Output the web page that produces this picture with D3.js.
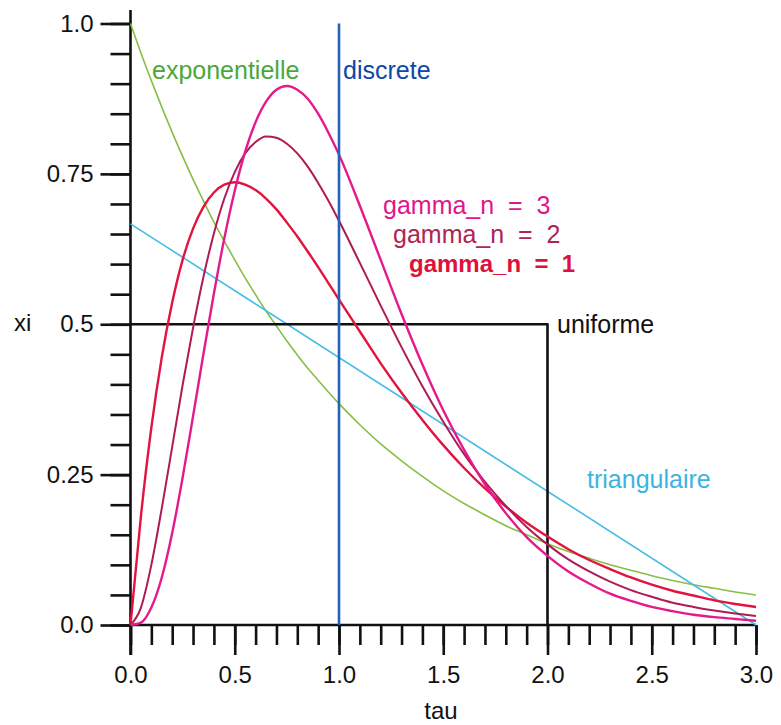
<!DOCTYPE html>
<html>
<head>
<meta charset="utf-8">
<script src="https://cdn.jsdelivr.net/npm/d3@7/dist/d3.min.js"></script>
<style>
  html, body { margin: 0; padding: 0; background: #fff; }
  svg text { font-family: "Liberation Sans", Arial, Helvetica, sans-serif; }
</style>
</head>
<body>
<svg id="chart" width="781" height="725"></svg>
<script>
// tau grid: fine steps up to 1.0, then 0.1 steps
const tau = [0, 0.05, 0.1, 0.15, 0.2, 0.25, 0.3, 0.35, 0.4, 0.45, 0.5, 0.55, 0.6, 0.65, 0.7, 0.75,
  0.8, 0.85, 0.9, 0.95, 1.0, 1.1, 1.2, 1.3, 1.4, 1.5, 1.6, 1.7, 1.8, 1.9, 2.0, 2.1, 2.2, 2.3,
  2.4, 2.5, 2.6, 2.7, 2.8, 2.9, 3.0];

const exponentielle = [1.000, 0.951, 0.905, 0.861, 0.819, 0.779, 0.741, 0.705, 0.670, 0.638, 0.607,
  0.577, 0.549, 0.522, 0.497, 0.472, 0.449, 0.427, 0.407, 0.387, 0.368, 0.333, 0.301, 0.273,
  0.247, 0.223, 0.202, 0.183, 0.165, 0.150, 0.135, 0.122, 0.111, 0.100, 0.091, 0.082, 0.074,
  0.067, 0.061, 0.055, 0.050];

const gamma1 = [0, 0.181, 0.328, 0.445, 0.536, 0.607, 0.659, 0.695, 0.719, 0.732, 0.736, 0.732,
  0.723, 0.709, 0.691, 0.669, 0.646, 0.621, 0.595, 0.568, 0.541, 0.488, 0.435, 0.386, 0.341,
  0.299, 0.261, 0.227, 0.197, 0.170, 0.147, 0.126, 0.108, 0.093, 0.079, 0.067, 0.057, 0.049,
  0.041, 0.035, 0.030];

const gamma2 = [0, 0.029, 0.100, 0.194, 0.296, 0.399, 0.494, 0.579, 0.651, 0.709, 0.753, 0.784,
  0.803, 0.812, 0.810, 0.800, 0.784, 0.762, 0.735, 0.705, 0.672, 0.602, 0.531, 0.462, 0.397,
  0.338, 0.284, 0.238, 0.198, 0.163, 0.134, 0.109, 0.089, 0.072, 0.058, 0.047, 0.037, 0.030,
  0.024, 0.019, 0.015];

const gamma3 = [0, 0.004, 0.029, 0.079, 0.153, 0.245, 0.347, 0.451, 0.551, 0.643, 0.722, 0.787,
  0.836, 0.870, 0.890, 0.896, 0.890, 0.875, 0.850, 0.818, 0.782, 0.697, 0.607, 0.517, 0.433,
  0.357, 0.291, 0.234, 0.186, 0.146, 0.115, 0.089, 0.069, 0.052, 0.040, 0.030, 0.023, 0.017,
  0.013, 0.010, 0.007];

const triangulaireTau = [0, 3];
const triangulaire = [0.667, 0];

const uniformeTau = [0, 2, 2];
const uniforme = [0.5, 0.5, 0];

const discreteTau = [1, 1];
const discrete = [0, 1];

const xMajor = [0, 0.5, 1.0, 1.5, 2.0, 2.5, 3.0];
const yMajor = [0, 0.25, 0.5, 0.75, 1.0];
const xMinor = d3.range(0, 31).map(i => i / 10);
const yMinor = d3.range(0, 21).map(i => i / 20);

const svg = d3.select("#chart");
const x = d3.scaleLinear().domain([0, 3]).range([130.5, 756]);
const y = d3.scaleLinear().domain([0, 1]).range([625, 23.5]);

const line = d3.line().x(d => x(d[0])).y(d => y(d[1]));
const smooth = d3.line().x(d => x(d[0])).y(d => y(d[1])).curve(d3.curveMonotoneX);
const zipPts = (ts, vs) => ts.map((t, i) => [t, vs[i]]);

// axes
function styleAxis(g) {
  g.select(".domain").remove();
  g.selectAll(".tick line").attr("stroke", "#111").attr("stroke-width", 2.6);
  g.selectAll(".tick text").attr("fill", "#111").style("font-size", "24px");
}

svg.append("g").attr("transform", `translate(0,${y(0)})`)
  .call(d3.axisBottom(x).tickValues(xMinor).tickSize(20).tickFormat(""))
  .call(styleAxis);
svg.append("g").attr("transform", `translate(0,${y(0)})`)
  .call(d3.axisBottom(x).tickValues(xMajor).tickSize(30).tickPadding(11).tickFormat(d3.format(".1f")))
  .call(styleAxis);

svg.append("g").attr("transform", `translate(${x(0)},0)`)
  .call(d3.axisLeft(y).tickValues(yMinor).tickSize(20).tickFormat(""))
  .call(styleAxis);
svg.append("g").attr("transform", `translate(${x(0)},0)`)
  .call(d3.axisLeft(y).tickValues(yMajor).tickSize(30).tickPadding(7)
    .tickFormat(d => d === 0.25 || d === 0.75 ? d3.format(".2f")(d) : d3.format(".1f")(d)))
  .call(styleAxis);

// axis lines
svg.append("line").attr("x1", x(0)).attr("x2", x(0)).attr("y1", 10).attr("y2", y(0) + 30)
  .attr("stroke", "#111").attr("stroke-width", 2.6);
svg.append("line").attr("x1", x(0)).attr("x2", x(3)).attr("y1", y(0)).attr("y2", y(0))
  .attr("stroke", "#111").attr("stroke-width", 2.6);

// axis titles
svg.append("text").attr("x", 441).attr("y", 719).attr("text-anchor", "middle")
  .style("font-size", "24px").attr("fill", "#111").text("tau");
svg.append("text").attr("x", 14).attr("y", 331)
  .style("font-size", "24px").attr("fill", "#111").text("xi");

// curves
const series = [
  { ts: tau, vs: exponentielle, color: "#86bf45", w: 1.6, gen: smooth },
  { ts: triangulaireTau, vs: triangulaire, color: "#45bde6", w: 1.6, gen: line },
  { ts: uniformeTau, vs: uniforme, color: "#111", w: 2.6, gen: line },
  { ts: tau, vs: gamma1, color: "#e3123f", w: 2.4, gen: smooth },
  { ts: tau, vs: gamma2, color: "#b01a55", w: 2.0, gen: smooth },
  { ts: tau, vs: gamma3, color: "#e6198c", w: 2.4, gen: smooth },
  { ts: discreteTau, vs: discrete, color: "#2462b8", w: 2.6, gen: line }
];
series.forEach(s => {
  svg.append("path").attr("d", s.gen(zipPts(s.ts, s.vs)))
    .attr("fill", "none").attr("stroke", s.color).attr("stroke-width", s.w)
    .attr("stroke-linejoin", "round");
});

// curve labels
const labels = [
  { t: "exponentielle", x: 152, y: 79, c: "#4aa83a", b: false },
  { t: "discrete", x: 343, y: 79, c: "#0c48a8", b: false },
  { t: "gamma_n  =  3", x: 383, y: 214, c: "#e0168a", b: false },
  { t: "gamma_n  =  2", x: 393, y: 243, c: "#b02452", b: false },
  { t: "gamma_n  =  1", x: 409, y: 272, c: "#e0103c", b: true },
  { t: "uniforme", x: 557, y: 333, c: "#111", b: false },
  { t: "triangulaire", x: 587, y: 488, c: "#3cb4e0", b: false }
];
labels.forEach(l => {
  svg.append("text").attr("x", l.x).attr("y", l.y).attr("fill", l.c)
    .style("font-size", l.b ? "24px" : "25px").style("white-space", "pre")
    .style("font-weight", l.b ? "bold" : "normal").text(l.t);
});
</script>
</body>
</html>
